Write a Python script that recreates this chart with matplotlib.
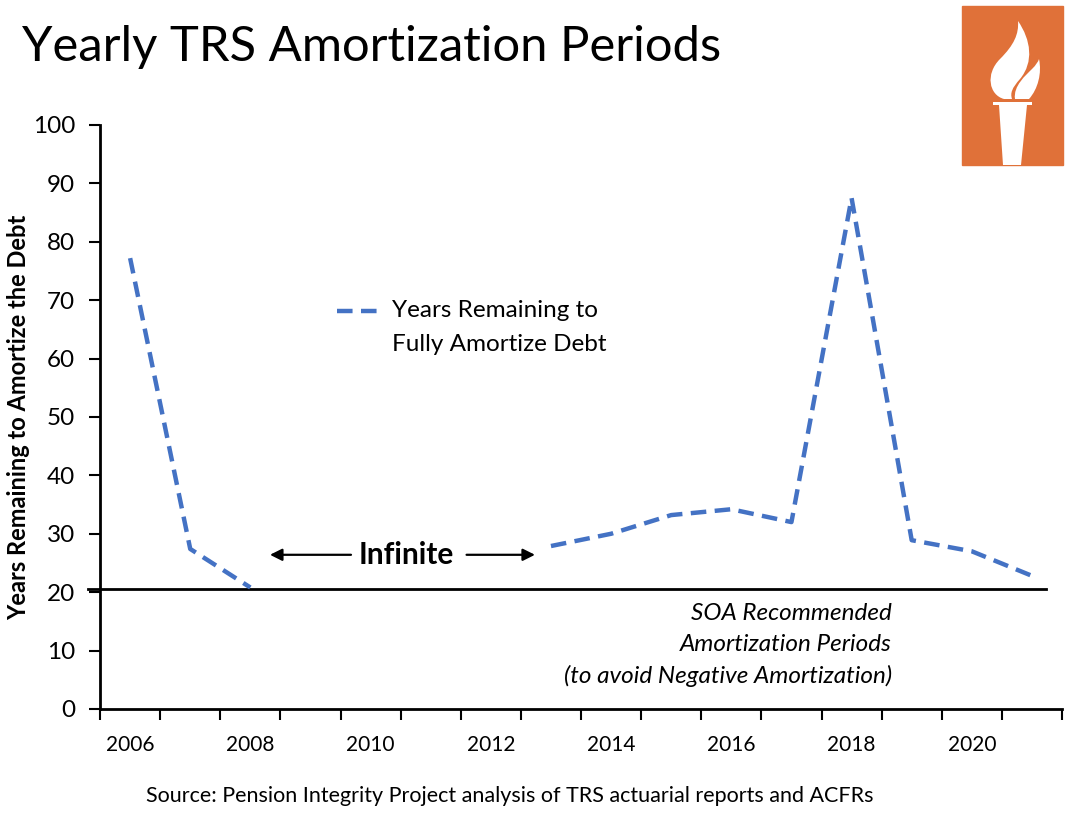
import matplotlib
matplotlib.use('Agg')
import matplotlib.pyplot as plt
import numpy as np
from matplotlib.path import Path
from matplotlib.patches import PathPatch, Rectangle
from matplotlib.lines import Line2D

plt.rcParams['font.family'] = ['Lato', 'DejaVu Sans']

# Data (NaN = "Infinite" years)
years = [2006, 2007, 2008, 2009, 2010, 2011, 2012, 2013,
         2014, 2015, 2016, 2017, 2018, 2019, 2020, 2021]
amort_years = [77.2, 27.4, 20.8, np.nan, np.nan, np.nan, np.nan, 27.9,
               30.0, 33.2, 34.2, 32.0, 87.5, 28.9, 27.0, 22.8]
soa_level = 20.5
year_labels = ['2006', '2008', '2010', '2012', '2014', '2016', '2018', '2020']

blue = '#4472C4'
orange = '#E07139'
dash = (0, (3.5, 1.9))

fig = plt.figure(figsize=(10.84, 8.18), dpi=100)
ax = fig.add_axes([0.0923, 0.1333, 0.8874, 0.7139])

# NaN gaps break the line like in the original
ax.plot(years, amort_years, color=blue, lw=3.2, ls=dash,
        solid_joinstyle='round', dash_joinstyle='round', zorder=3)

# SOA 20-year line, extends a bit left of the y axis
ax.plot([2005.3, 2021.23], [soa_level, soa_level], color='black', lw=2,
        clip_on=False, zorder=2)

ax.set_xlim(2005.5, 2021.5)
ax.set_ylim(0, 100)
ax.set_yticks(np.arange(0, 101, 10))
ax.set_xticks(np.arange(2005.5, 2022, 1.0))
ax.set_xticklabels([])
ax.set_xticks([int(s) for s in year_labels], minor=True)
ax.set_xticklabels(year_labels, minor=True)
ax.tick_params(axis='x', which='major', direction='out', length=8, width=1.5)
ax.tick_params(axis='x', which='minor', length=0, pad=19, labelsize=15)
ax.tick_params(axis='y', direction='out', length=8, width=1.5, pad=10,
               labelsize=17.5)
for s in ['top', 'right']:
    ax.spines[s].set_visible(False)
for s in ['left', 'bottom']:
    ax.spines[s].set_linewidth(2)

ax.set_ylabel('Years Remaining to Amortize the Debt', fontsize=17,
              fontweight='bold')
ax.yaxis.set_label_coords(-0.073, 0.5)

# "Infinite" annotation with arrows
ax.text(2010.6, 26.3, 'Infinite', fontsize=21.5, fontweight='bold',
        ha='center', va='center')
ax.annotate('', xy=(2008.28, 26.4), xytext=(2009.72, 26.4),
            arrowprops=dict(arrowstyle='-|>', color='black', lw=1.6,
                            mutation_scale=18), annotation_clip=False)
ax.annotate('', xy=(2012.78, 26.4), xytext=(2011.55, 26.4),
            arrowprops=dict(arrowstyle='-|>', color='black', lw=1.6,
                            mutation_scale=18), annotation_clip=False)

ax.text(2018.67, 18.1, 'SOA Recommended\nAmortization Periods\n'
        '(to avoid Negative Amortization)', fontsize=17.5, style='italic',
        ha='right', va='top', linespacing=1.57, multialignment='right')

# legend key and its two-line label
ax.add_line(Line2D([0.2464, 0.2963], [0.6815, 0.6815], color=blue, lw=3.2,
                   ls=dash, transform=ax.transAxes))
ax.text(0.3035, 0.6815, 'Years Remaining to', fontsize=17.5,
        transform=ax.transAxes, ha='left', va='center')
ax.text(0.3035, 0.6245, 'Fully Amortize Debt', fontsize=17.5,
        transform=ax.transAxes, ha='left', va='center')

fig.text(0.02, 0.943, 'Yearly TRS Amortization Periods', fontsize=35.3,
         ha='left', va='center')
fig.text(0.47, 0.027, 'Source: Pension Integrity Project analysis of TRS '
         'actuarial reports and ACFRs', fontsize=15.5, ha='center',
         va='center')

# logo: orange box with a white torch (pixel coords, y measured from top)
W, H = 1084.0, 818.0


def fc(px, py):
    return (px / W, 1 - py / H)


fig.patches.append(Rectangle(fc(962, 165), 101 / W, 159 / H,
                             transform=fig.transFigure, color=orange))
flame = Path([fc(1004, 99), fc(989, 95), fc(985, 74), fc(1000, 59),
              fc(1014, 45), fc(1019, 34), fc(1018, 21),
              fc(1031, 40), fc(1034, 62), fc(1020, 79),
              fc(1012, 88), fc(1010, 93), fc(1012, 99), fc(1004, 99)],
             [Path.MOVETO] + [Path.CURVE4] * 12 + [Path.CLOSEPOLY])
small = Path([fc(1015, 99), fc(1013, 86), fc(1026, 75), fc(1032, 69),
              fc(1036, 65), fc(1038, 62), fc(1039, 59),
              fc(1042, 73), fc(1038, 89), fc(1029, 99), fc(1015, 99)],
             [Path.MOVETO] + [Path.CURVE4] * 9 + [Path.CLOSEPOLY])
cup = Path([fc(993, 102), fc(1032, 102), fc(1032, 105), fc(1027, 105),
            fc(1021, 165), fc(1003, 165), fc(999, 105), fc(993, 105),
            fc(993, 102)],
           [Path.MOVETO] + [Path.LINETO] * 7 + [Path.CLOSEPOLY])
for p in (flame, small, cup):
    fig.patches.append(PathPatch(p, transform=fig.transFigure, fc='white',
                                 ec='none'))

fig.savefig('out.png', dpi=100)
